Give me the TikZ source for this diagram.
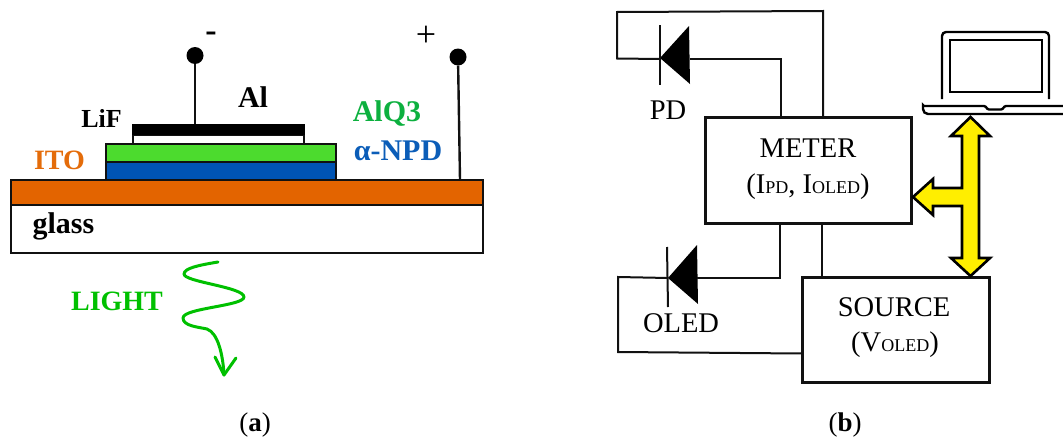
\documentclass[tikz,border=0pt]{standalone}
\usepackage{fontspec}
\setmainfont{Liberation Serif}
\definecolor{itoC}{HTML}{E36400}
\definecolor{blueC}{HTML}{0054B4}
\definecolor{greenC}{HTML}{4CDB2E}
\definecolor{alqC}{HTML}{0DB03F}
\definecolor{npdC}{HTML}{0B5DB8}
\definecolor{itoT}{HTML}{E46C0A}
\definecolor{lightC}{HTML}{00C000}
\definecolor{yelC}{HTML}{FFEE00}
\definecolor{lineC}{HTML}{111111}
\newcommand{\fs}[1]{\fontsize{#1}{#1}\selectfont}
\newcommand{\smc}[1]{{\fs{18}#1}}
\tikzset{
  x=1pt,y=-1pt,
  layer/.style={draw=lineC,line width=1.8pt,anchor=north west,inner sep=0pt,outer sep=0pt},
  termdot/.style={circle,fill=black,inner sep=0pt,minimum size=17pt},
  lead/.style={draw=lineC,line width=2.4pt},
  wire/.style={draw=lineC,line width=2pt,line join=miter},
  blockbox/.style={draw=lineC,line width=3pt,anchor=north west,inner sep=0pt,outer sep=0pt},
  lbl/.style={inner sep=0pt,align=center,text=black},
  boldlbl/.style={inner sep=0pt,font=\bfseries},
  fatarrow/.style={draw=black,fill=yelC,line width=2.6pt,line join=miter},
  laptop/.style={draw=black,line width=2.4pt},
  lightline/.style={draw=lightC,line width=3pt,line cap=round,line join=round},
}
\begin{document}
\begin{tikzpicture}
\useasboundingbox (0,0) rectangle (1063,442);
% --- (a) stack
\node[layer,fill=white,minimum width=472pt,minimum height=48pt] (glass) at (11,205) {};
\node[layer,fill=itoC,minimum width=472pt,minimum height=25pt] (ito) at (11,180) {};
\node[layer,fill=blueC,minimum width=230pt,minimum height=18pt] (npd) at (106,162) {};
\node[layer,fill=greenC,minimum width=230pt,minimum height=18pt] (alq) at (106,144) {};
\node[layer,fill=white,minimum width=171pt,minimum height=9pt] (lif) at (133,135) {};
\node[layer,fill=black,draw=black,minimum width=172pt,minimum height=10pt] (al) at (132.5,124.5) {};
\node[termdot] (tm) at (195,55.5) {};
\node[termdot] (tp) at (458,57) {};
\coordinate (tmEnd) at (195,124);
\coordinate (tpEnd) at (460,180);
\draw[lead] (tm) -- (tmEnd);
\draw[lead] (tp) -- (tpEnd);
\node[lbl,font=\bfseries\fs{34}] (minus) at (211,37) {-};
\node[lbl,font=\fs{36}] (plus) at (426,36) {+};
\node[boldlbl,font=\bfseries\fs{30}] (alT) at (253,97) {Al};
\node[boldlbl,font=\bfseries\fs{26}] (lifT) at (101.5,118) {LiF};
\node[boldlbl,font=\bfseries\fs{30},text=alqC] (alqT) at (387,114) {AlQ3};
\node[boldlbl,font=\bfseries\fs{30},text=npdC] (npdT) at (398,151) {α-NPD};
\node[boldlbl,font=\bfseries\fs{28},text=itoT] (itoTx) at (59.5,160) {ITO};
\node[boldlbl,font=\bfseries\fs{30}] (glassT) at (63.5,226) {glass};
\node[boldlbl,font=\bfseries\fs{28},text=lightC] (lightT) at (117,301) {LIGHT};
\draw[lightline]
  (218,262) .. controls (200,265) and (184,268) .. (184,274)
  .. controls (184,282) and (244,287) .. (244,297)
  .. controls (244,306) and (183,308) .. (183,318)
  .. controls (183,326) and (198,327) .. (207,329)
  .. controls (218,333) and (223,355) .. (224,375);
\draw[lightline] (215,357) -- (224,375) -- (236,358);
\node[lbl,font=\fs{27}] (capA) at (255,425) {(\textbf{a})};
\node[lbl,font=\fs{27}] (capB) at (845,425) {(\textbf{b})};
% --- (b) blocks
\node[blockbox,minimum width=206pt,minimum height=106pt] (meter) at (705,117) {};
\node[blockbox,minimum width=187pt,minimum height=105pt] (source) at (802,277) {};
\node[lbl,font=\fs{28.5}] (meterT) at (808,148) {METER};
\node[lbl,font=\fs{28.5}] (meterS) at (808,187) {(I\smc{PD}, I\smc{OLED})};
\node[lbl,font=\fs{28.5}] (sourceT) at (894,307) {SOURCE};
\node[lbl,font=\fs{28.5}] (sourceS) at (895,345) {(V\smc{OLED})};
\node[lbl,font=\fs{28.5}] (pdT) at (668,110) {PD};
\node[lbl,font=\fs{28.5}] (oledT) at (681,323) {OLED};
% PD diode
\coordinate (pdK) at (660,59);
\coordinate (pdA) at (690,59);
\coordinate (pdKt) at (660,25);
\coordinate (pdKb) at (660,85);
\fill[black] (660,58) -- (689,26) -- (690,84) -- cycle;
\draw[wire] (pdKt) -- (pdKb);
\coordinate (mA) at (781,117);
\coordinate (mB) at (823,117);
\draw[wire] (pdA) -- (781,59) -- (mA);
\draw[wire] (pdK) -- (617,58.5) -- (617,12) -- (823,11) -- (mB);
% OLED diode
\coordinate (olK) at (668,278);
\coordinate (olA) at (697,278);
\coordinate (olKt) at (667,247);
\coordinate (olKb) at (668,307);
\fill[black] (668,278) -- (697,245) -- (698,304) -- cycle;
\draw[wire] (olKt) -- (olKb);
\coordinate (mC) at (780,223);
\coordinate (mD) at (822,223);
\coordinate (sA) at (822,277);
\coordinate (sB) at (802,353.5);
\draw[wire] (mC) -- (780,278) -- (olA);
\draw[wire] (mD) -- (sA);
\draw[wire] (olK) -- (618,277) -- (618,352) -- (sB);
% yellow three-way arrow
\draw[fatarrow] (970.5,117) -- (990,136) -- (979,136) -- (979,258) -- (990,258) -- (970.5,276)
  -- (951,258) -- (962,258) -- (962,206) -- (933,206) -- (933,215) -- (913,197)
  -- (933,179) -- (933,188) -- (962,188) -- (962,136) -- (951,136) -- cycle;
% laptop
\draw[laptop,rounded corners=4pt] (942,99) -- (942,32) -- (1049,32) -- (1049,99);
\draw[laptop,line width=2.8pt] (950,40) rectangle (1042,92);
\draw[laptop,rounded corners=1pt] (1063,106) -- (1005,106) -- (1002,109.5) -- (988,109.5) -- (985,106) -- (923,106) -- (923,106);
\draw[laptop,rounded corners=5pt] (923,106) -- (923,114) -- (1063,114);
\end{tikzpicture}
\end{document}
